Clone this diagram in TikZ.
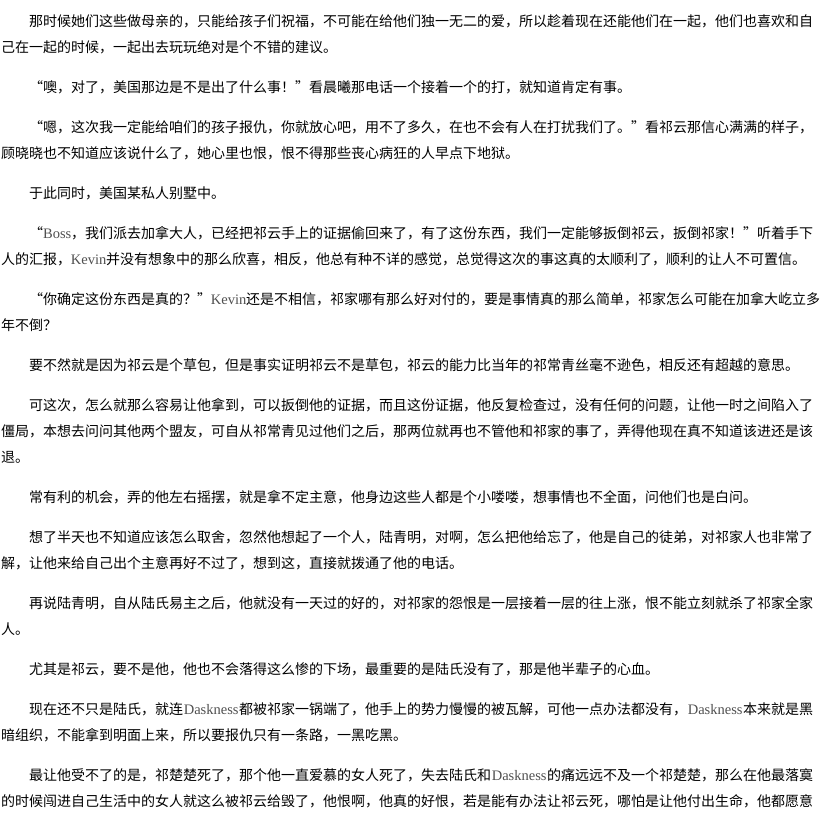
\documentclass[tikz,border=0pt]{standalone}
\usepackage{fontspec}
\setmainfont{Noto Sans CJK SC}
\newfontfamily\latinfont{Liberation Serif}
\usepackage{xcolor}
\definecolor{latgray}{RGB}{80,80,80}
\newcommand\qopen{\makebox[1em][r]{“}}
\newcommand\qclose{\makebox[1em][l]{”}}
\newcommand\lat[2]{\makebox[#1pt][c]{\latinfont\fontsize{14.5pt}{14.5pt}\selectfont\color{latgray}#2}}

\begin{document}
\begin{tikzpicture}[x=1pt, y=1pt, font=\fontsize{14pt}{14pt}\selectfont,
	txtline/.style={anchor=base west, inner sep=0pt}]
				\fill [white] (0, 0) rectangle (835, -817);
				\useasboundingbox (0, 0) rectangle (835, -817);
				% paragraph 1
				\node [txtline] (l1) at (29, -26) {那时候她们这些做母亲的，只能给孩子们祝福，不可能在给他们独一无二的爱，所以趁着现在还能他们在一起，他们也喜欢和自};
				\node [txtline] (l2) at (1, -52) {己在一起的时候，一起出去玩玩绝对是个不错的建议。};
				% paragraph 2
				\node [txtline] (l3) at (29, -92) {\qopen 噢，对了，美国那边是不是出了什么事！\qclose 看晨曦那电话一个接着一个的打，就知道肯定有事。};
				% paragraph 3
				\node [txtline] (l4) at (29, -132) {\qopen 嗯，这次我一定能给咱们的孩子报仇，你就放心吧，用不了多久，在也不会有人在打扰我们了。\qclose 看祁云那信心满满的样子，};
				\node [txtline] (l5) at (1, -158) {顾晓晓也不知道应该说什么了，她心里也恨，恨不得那些丧心病狂的人早点下地狱。};
				% paragraph 4
				\node [txtline] (l6) at (29, -198) {于此同时，美国某私人别墅中。};
				% paragraph 5
				\node [txtline] (l7) at (29, -238) {\qopen\lat{28}{Boss}，我们派去加拿大人，已经把祁云手上的证据偷回来了，有了这份东西，我们一定能够扳倒祁云，扳倒祁家！\qclose 听着手下};
				\node [txtline] (l8) at (1, -264) {人的汇报，\lat{35}{Kevin}并没有想象中的那么欣喜，相反，他总有种不详的感觉，总觉得这次的事这真的太顺利了，顺利的让人不可置信。};
				% paragraph 6
				\node [txtline] (l9) at (29, -304) {\qopen 你确定这份东西是真的？\qclose\lat{35}{Kevin}还是不相信，祁家哪有那么好对付的，要是事情真的那么简单，祁家怎么可能在加拿大屹立多};
				\node [txtline] (l10) at (1, -330) {年不倒？};
				% paragraph 7
				\node [txtline] (l11) at (29, -370) {要不然就是因为祁云是个草包，但是事实证明祁云不是草包，祁云的能力比当年的祁常青丝毫不逊色，相反还有超越的意思。};
				% paragraph 8
				\node [txtline] (l12) at (29, -410) {可这次，怎么就那么容易让他拿到，可以扳倒他的证据，而且这份证据，他反复检查过，没有任何的问题，让他一时之间陷入了};
				\node [txtline] (l13) at (1, -436) {僵局，本想去问问其他两个盟友，可自从祁常青见过他们之后，那两位就再也不管他和祁家的事了，弄得他现在真不知道该进还是该};
				\node [txtline] (l14) at (1, -462) {退。};
				% paragraph 9
				\node [txtline] (l15) at (29, -502) {常有利的机会，弄的他左右摇摆，就是拿不定主意，他身边这些人都是个小喽喽，想事情也不全面，问他们也是白问。};
				% paragraph 10
				\node [txtline] (l16) at (29, -542) {想了半天也不知道应该怎么取舍，忽然他想起了一个人，陆青明，对啊，怎么把他给忘了，他是自己的徒弟，对祁家人也非常了};
				\node [txtline] (l17) at (1, -568) {解，让他来给自己出个主意再好不过了，想到这，直接就拨通了他的电话。};
				% paragraph 11
				\node [txtline] (l18) at (29, -608) {再说陆青明，自从陆氏易主之后，他就没有一天过的好的，对祁家的怨恨是一层接着一层的往上涨，恨不能立刻就杀了祁家全家};
				\node [txtline] (l19) at (1, -634) {人。};
				% paragraph 12
				\node [txtline] (l20) at (29, -674) {尤其是祁云，要不是他，他也不会落得这么惨的下场，最重要的是陆氏没有了，那是他半辈子的心血。};
				% paragraph 13
				\node [txtline] (l21) at (29, -714) {现在还不只是陆氏，就连\lat{56}{Daskness}都被祁家一锅端了，他手上的势力慢慢的被瓦解，可他一点办法都没有，\lat{56}{Daskness}本来就是黑};
				\node [txtline] (l22) at (1, -740) {暗组织，不能拿到明面上来，所以要报仇只有一条路，一黑吃黑。};
				% paragraph 14
				\node [txtline] (l23) at (29, -780) {最让他受不了的是，祁楚楚死了，那个他一直爱慕的女人死了，失去陆氏和\lat{56}{Daskness}的痛远远不及一个祁楚楚，那么在他最落寞};
				\node [txtline] (l24) at (1, -806) {的时候闯进自己生活中的女人就这么被祁云给毁了，他恨啊，他真的好恨，若是能有办法让祁云死，哪怕是让他付出生命，他都愿意};
			\end{tikzpicture}
\end{document}
